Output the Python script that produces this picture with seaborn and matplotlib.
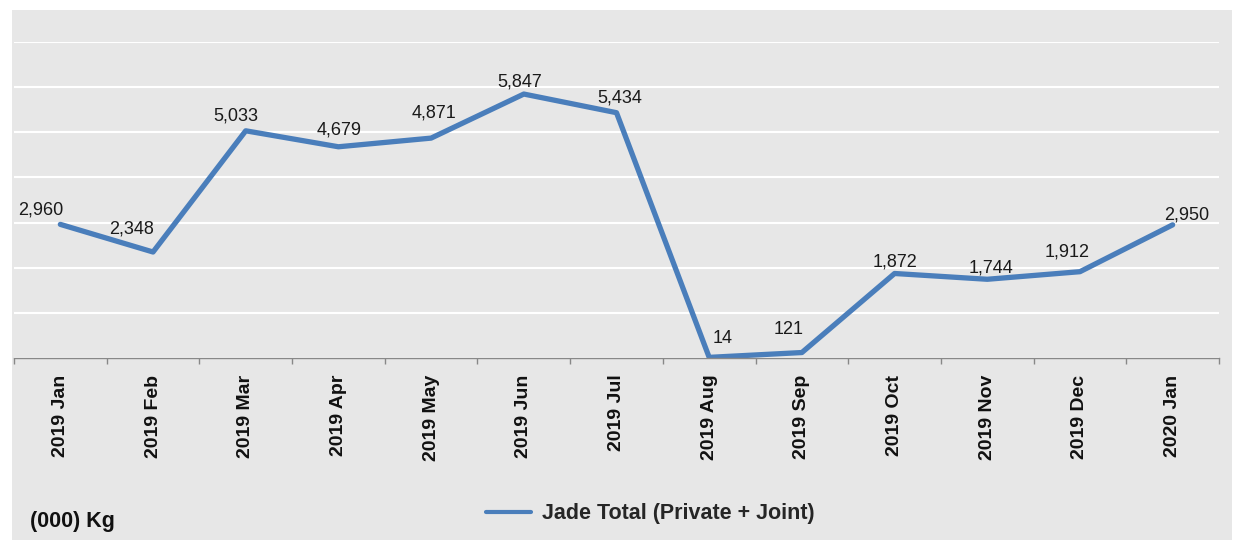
import numpy as np
import pandas as pd
import seaborn as sns
import matplotlib.pyplot as plt
from matplotlib.patches import Rectangle

# Data
months = ['2019 Jan', '2019 Feb', '2019 Mar', '2019 Apr', '2019 May', '2019 Jun',
          '2019 Jul', '2019 Aug', '2019 Sep', '2019 Oct', '2019 Nov', '2019 Dec',
          '2020 Jan']
jade_total = [2960, 2348, 5033, 4679, 4871, 5847, 5434, 14, 121, 1872, 1744, 1912, 2950]

# label nudges (pixels) to mimic the hand-placed labels
label_dx = [-20, -21, -10, 1, 3, -4, 3, 13, -13, 0, 4, -13, 14]
label_dy = [14, 23, 15, 17, 25, 12, 15, 19, 23, 11, 11, 20, 10]

df = pd.DataFrame({'Month': months, 'Jade Total (Private + Joint)': jade_total})
df['pos'] = np.arange(len(df))

bg = '#e7e7e7'
sns.set_theme(style='white')
plt.rcParams['font.family'] = ['Liberation Sans', 'DejaVu Sans']

fig = plt.figure(figsize=(12.39, 5.53), dpi=100)
fig.patch.set_facecolor('white')
fig.patches.append(Rectangle((12 / 1239, 1 - 540 / 553), 1220 / 1239, 530 / 553,
                             transform=fig.transFigure, facecolor=bg,
                             edgecolor='none', zorder=-10))

ax = fig.add_axes([14 / 1239, 1 - 358 / 553, 1205 / 1239, 316 / 553])
ax.set_facecolor(bg)

sns.lineplot(data=df, x='pos', y='Jade Total (Private + Joint)', ax=ax,
             color='#4a7ebb', linewidth=3.8, label='Jade Total (Private + Joint)',
             legend=False)

for x, v, dx, dy in zip(df['pos'], jade_total, label_dx, label_dy):
    ax.annotate(f'{v:,}', (x, v), xytext=(dx * 0.72, dy * 0.72),
                textcoords='offset points', ha='center', va='center',
                fontsize=13, color='#1a1a1a')

ax.set_xlim(-0.5, len(months) - 0.5)
ax.set_ylim(0, 7000)
ax.set_yticks(np.arange(0, 7001, 1000))
ax.yaxis.grid(True, color='white', linewidth=1.5)
ax.set_axisbelow(True)
ax.tick_params(axis='y', left=False, labelleft=False)

ax.set_xticks(df['pos'])
ax.set_xticklabels(months, rotation=90, fontsize=14, fontweight='bold',
                   va='top', ha='center')
ax.set_xticks(np.arange(-0.5, len(months)), minor=True)
ax.tick_params(axis='x', which='major', length=0, pad=12, colors='#111111')
ax.tick_params(axis='x', which='minor', length=4, width=1, color='#888888',
               direction='out', bottom=True)
ax.set_xlabel('')
ax.set_ylabel('')

for s in ['top', 'left', 'right']:
    ax.spines[s].set_visible(False)
ax.spines['bottom'].set_color('#888888')
ax.spines['bottom'].set_linewidth(1)

handles, labels = ax.get_legend_handles_labels()
fig.legend(handles, labels, loc='center', bbox_to_anchor=(650 / 1239, 1 - 514 / 553),
           frameon=False, prop={'weight': 'bold', 'size': 15.5}, handlelength=2.1,
           handletextpad=0.5)
for line in fig.legends[0].get_lines():
    line.set_linewidth(3)

fig.text(30 / 1239, 1 - 522 / 553, '(000) Kg', fontsize=15.5, fontweight='bold',
         ha='left', va='center', color='#111111')

fig.savefig('out.png', dpi=100, facecolor=fig.get_facecolor())
